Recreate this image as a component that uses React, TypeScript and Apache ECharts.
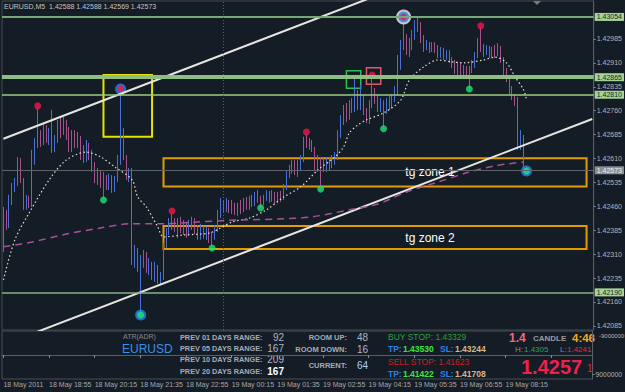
import React, { useEffect, useRef } from 'react';
import * as echarts from 'echarts';

// [open, close, low, high] per M5 bar, 18 May 17:35 -> 19 May 08:50
const CANDLES: number[][] = [
  [1.42329,1.42433,1.42317,1.42458],[1.42433,1.42401,1.42386,1.42449],[1.42401,1.42480,1.42392,1.42496],[1.42480,1.42518,1.42464,1.42533],
  [1.42518,1.42536,1.42505,1.42549],[1.42536,1.42590,1.42524,1.42615],[1.42590,1.42543,1.42533,1.42612],[1.42543,1.42464,1.42449,1.42549],
  [1.42464,1.42486,1.42449,1.42496],[1.42486,1.42464,1.42455,1.42493],[1.42464,1.42605,1.42458,1.42637],[1.42605,1.42652,1.42590,1.42674],
  [1.42652,1.42684,1.42643,1.42768],[1.42684,1.42662,1.42646,1.42699],[1.42662,1.42706,1.42652,1.42721],[1.42706,1.42668,1.42659,1.42715],
  [1.42668,1.42693,1.42652,1.42706],[1.42693,1.42637,1.42627,1.42762],[1.42637,1.42668,1.42630,1.42684],[1.42668,1.42715,1.42659,1.42731],
  [1.42715,1.42693,1.42674,1.42737],[1.42693,1.42724,1.42684,1.42740],[1.42724,1.42674,1.42668,1.42731],[1.42674,1.42637,1.42630,1.42709],
  [1.42637,1.42684,1.42630,1.42699],[1.42684,1.42652,1.42643,1.42699],[1.42652,1.42674,1.42643,1.42693],[1.42674,1.42621,1.42605,1.42681],
  [1.42621,1.42605,1.42596,1.42652],[1.42605,1.42643,1.42599,1.42668],[1.42643,1.42621,1.42605,1.42659],[1.42621,1.42574,1.42568,1.42637],
  [1.42574,1.42549,1.42533,1.42599],[1.42549,1.42568,1.42527,1.42580],[1.42568,1.42527,1.42518,1.42574],[1.42527,1.42549,1.42486,1.42568],
  [1.42549,1.42533,1.42511,1.42558],[1.42533,1.42552,1.42511,1.42562],[1.42552,1.42518,1.42502,1.42558],[1.42518,1.42543,1.42505,1.42555],
  [1.42543,1.42605,1.42536,1.42621],[1.42605,1.42690,1.42590,1.42825],[1.42690,1.42612,1.42605,1.42706],[1.42612,1.42549,1.42543,1.42621],
  [1.42549,1.42568,1.42536,1.42580],[1.42568,1.42286,1.42276,1.42580],[1.42286,1.42317,1.42267,1.42339],[1.42317,1.42267,1.42254,1.42329],
  [1.42267,1.42286,1.42126,1.42307],[1.42286,1.42307,1.42267,1.42323],[1.42307,1.42260,1.42251,1.42317],[1.42260,1.42276,1.42245,1.42298],
  [1.42276,1.42245,1.42229,1.42286],[1.42245,1.42267,1.42223,1.42286],[1.42267,1.42229,1.42217,1.42276],[1.42229,1.42242,1.42213,1.42254],
  [1.42242,1.42339,1.42229,1.42345],[1.42339,1.42380,1.42329,1.42392],[1.42380,1.42401,1.42370,1.42423],[1.42401,1.42417,1.42386,1.42439],
  [1.42417,1.42392,1.42380,1.42423],[1.42392,1.42411,1.42361,1.42423],[1.42411,1.42386,1.42376,1.42427],[1.42386,1.42405,1.42370,1.42417],
  [1.42405,1.42380,1.42361,1.42411],[1.42380,1.42398,1.42367,1.42417],[1.42398,1.42411,1.42386,1.42427],[1.42411,1.42386,1.42373,1.42423],
  [1.42386,1.42370,1.42355,1.42401],[1.42370,1.42392,1.42355,1.42405],[1.42392,1.42367,1.42358,1.42398],[1.42367,1.42380,1.42355,1.42398],
  [1.42380,1.42355,1.42345,1.42392],[1.42355,1.42367,1.42336,1.42380],[1.42367,1.42392,1.42355,1.42401],[1.42392,1.42433,1.42380,1.42449],
  [1.42433,1.42474,1.42423,1.42486],[1.42474,1.42455,1.42442,1.42480],[1.42455,1.42467,1.42442,1.42486],[1.42467,1.42449,1.42439,1.42480],
  [1.42449,1.42464,1.42436,1.42480],[1.42464,1.42442,1.42433,1.42471],[1.42442,1.42458,1.42430,1.42471],[1.42458,1.42449,1.42436,1.42480],
  [1.42449,1.42471,1.42442,1.42486],[1.42471,1.42461,1.42449,1.42489],[1.42461,1.42480,1.42449,1.42493],[1.42480,1.42467,1.42458,1.42496],
  [1.42467,1.42493,1.42461,1.42505],[1.42493,1.42480,1.42471,1.42511],[1.42480,1.42467,1.42455,1.42493],[1.42467,1.42486,1.42464,1.42496],
  [1.42486,1.42499,1.42477,1.42511],[1.42499,1.42483,1.42471,1.42508],[1.42483,1.42496,1.42474,1.42511],[1.42496,1.42480,1.42467,1.42505],
  [1.42480,1.42496,1.42471,1.42505],[1.42496,1.42486,1.42474,1.42508],[1.42486,1.42518,1.42480,1.42530],[1.42518,1.42558,1.42511,1.42574],
  [1.42558,1.42574,1.42549,1.42590],[1.42574,1.42590,1.42562,1.42605],[1.42590,1.42568,1.42558,1.42605],[1.42568,1.42587,1.42552,1.42605],
  [1.42587,1.42612,1.42574,1.42621],[1.42612,1.42668,1.42599,1.42678],[1.42668,1.42652,1.42643,1.42687],[1.42652,1.42659,1.42637,1.42674],
  [1.42659,1.42637,1.42630,1.42668],[1.42637,1.42580,1.42574,1.42646],[1.42580,1.42605,1.42568,1.42621],[1.42605,1.42590,1.42521,1.42615],
  [1.42590,1.42574,1.42568,1.42612],[1.42574,1.42599,1.42568,1.42615],[1.42599,1.42583,1.42574,1.42612],[1.42583,1.42605,1.42580,1.42621],
  [1.42605,1.42612,1.42590,1.42630],[1.42612,1.42684,1.42605,1.42699],[1.42684,1.42731,1.42674,1.42746],[1.42731,1.42756,1.42715,1.42778],
  [1.42756,1.42737,1.42724,1.42784],[1.42737,1.42778,1.42731,1.42793],[1.42778,1.42762,1.42753,1.42800],[1.42762,1.42793,1.42756,1.42866],
  [1.42793,1.42775,1.42762,1.42825],[1.42775,1.42800,1.42762,1.42841],[1.42800,1.42756,1.42746,1.42809],[1.42756,1.42731,1.42721,1.42768],
  [1.42731,1.42778,1.42718,1.42793],[1.42778,1.42825,1.42768,1.42869],[1.42825,1.42793,1.42781,1.42831],[1.42793,1.42768,1.42756,1.42809],
  [1.42768,1.42781,1.42756,1.42800],[1.42781,1.42762,1.42709,1.42793],[1.42762,1.42784,1.42750,1.42800],[1.42784,1.42778,1.42762,1.42806],
  [1.42778,1.42800,1.42768,1.42812],[1.42800,1.42819,1.42787,1.42837],[1.42819,1.42919,1.42809,1.42935],[1.42919,1.42966,1.42888,1.42982],
  [1.42966,1.42988,1.42950,1.43054],[1.42988,1.42950,1.42935,1.43000],[1.42950,1.42966,1.42928,1.42988],[1.42966,1.42997,1.42950,1.43013],
  [1.42997,1.43019,1.42982,1.43044],[1.43019,1.43029,1.43007,1.43051],[1.43029,1.42982,1.42972,1.43038],[1.42982,1.42960,1.42944,1.42997],
  [1.42960,1.42969,1.42950,1.42982],[1.42969,1.42950,1.42941,1.42975],[1.42950,1.42966,1.42944,1.42975],[1.42966,1.42953,1.42941,1.42975],
  [1.42953,1.42935,1.42925,1.42966],[1.42935,1.42950,1.42925,1.42960],[1.42950,1.42928,1.42919,1.42957],[1.42928,1.42941,1.42919,1.42950],
  [1.42941,1.42919,1.42910,1.42950],[1.42919,1.42906,1.42894,1.42928],[1.42906,1.42888,1.42875,1.42919],[1.42888,1.42900,1.42869,1.42913],
  [1.42900,1.42881,1.42869,1.42910],[1.42881,1.42894,1.42869,1.42903],[1.42894,1.42875,1.42862,1.42900],[1.42875,1.42888,1.42831,1.42900],
  [1.42888,1.42906,1.42878,1.42919],[1.42906,1.42935,1.42894,1.42944],[1.42935,1.42975,1.42925,1.42988],[1.42975,1.42957,1.42944,1.43022],
  [1.42957,1.42944,1.42928,1.42969],[1.42944,1.42957,1.42935,1.42966],[1.42957,1.42935,1.42925,1.42963],[1.42935,1.42950,1.42928,1.42960],
  [1.42950,1.42938,1.42925,1.42966],[1.42938,1.42957,1.42931,1.42972],[1.42957,1.42919,1.42910,1.42963],[1.42919,1.42881,1.42872,1.42928],
  [1.42881,1.42862,1.42850,1.42894],[1.42862,1.42825,1.42812,1.42869],[1.42825,1.42803,1.42793,1.42837],[1.42803,1.42793,1.42775,1.42812],
  [1.42793,1.42643,1.42637,1.42803],[1.42643,1.42674,1.42637,1.42699],[1.42674,1.42588,1.42580,1.42684],[1.42588,1.42573,1.42569,1.42588],
];

const SLOTS = 207;
const LABEL_STEP = 16;
const TIME_LABELS = ['18 May 2011', '18 May 18:55', '18 May 20:15', '18 May 21:35', '18 May 22:55', '19 May 00:15',
  '19 May 01:35', '19 May 02:55', '19 May 04:15', '19 May 05:35', '19 May 06:55', '19 May 08:15'];
const PRICE_TICKS = [1.42085, 1.42160, 1.42235, 1.42310, 1.42385, 1.42460, 1.42535, 1.42610, 1.42685, 1.42760, 1.42835, 1.42910, 1.42985];
const Y_MIN = 1.42072;
const Y_MAX = 1.43104;
const LEVELS = [1.43054, 1.42865, 1.42810, 1.42190];
const CURRENT_PRICE = 1.42573;
const SEPARATOR_BAR = 77;
const UPPER_CHANNEL = [[0, 1.42672], [150, 1.43188]];
const LOWER_CHANNEL = [[10, 1.42060], [206, 1.42734]];
const FAST_MA = [[0,1.42229],[4,1.42355],[9,1.42439],[16,1.42543],[22,1.42605],[29,1.42630],[34,1.42615],[39,1.42583],[45,1.42543],
  [47,1.42489],[50,1.42458],[54,1.42395],[56,1.42364],[63,1.42370],[72,1.42376],[76,1.42392],[80,1.42411],[86,1.42423],[92,1.42449],
  [98,1.42489],[104,1.42521],[110,1.42574],[116,1.42615],[119,1.42646],[121,1.42690],[124,1.42715],[127,1.42731],[133,1.42753],
  [139,1.42793],[142,1.42856],[147,1.42897],[152,1.42919],[157,1.42913],[161,1.42910],[168,1.42919],[172,1.42928],[176,1.42910],
  [179,1.42866],[182,1.42825],[183,1.42793]];
const SLOW_MA = [[0,1.42333],[10,1.42348],[22,1.42373],[34,1.42392],[44,1.42405],[56,1.42405],[68,1.42411],[82,1.42417],[96,1.42420],
  [108,1.42427],[121,1.42449],[131,1.42467],[141,1.42505],[152,1.42536],[162,1.42565],[172,1.42587],[182,1.42599]];
const UP_FRACTALS = [[12,1.42775],[41,1.42828],[59,1.42445],[106,1.42693],[129,1.42872],[140,1.43054],[167,1.43026]];
const DOWN_FRACTALS = [[35,1.42480],[48,1.42119],[73,1.42329],[90,1.42455],[111,1.42514],[133,1.42703],[163,1.42828],[183,1.42571]];
const SIGNALS = [[41,1.42828],[140,1.43054],[48,1.42119],[183,1.42571]];
const RING = [[140,1.43054]];
// [barFrom, priceTop, barTo, priceBottom]
const BOXES = [[35,1.42872,52,1.42678],[120,1.42885,125,1.42830],[127,1.42895,132,1.42843]];
const ZONES = [[56,1.42611,204,1.42522],[56,1.42398,204,1.42326]];
const ZONE_NAMES = ['tg zone 1', 'tg zone 2'];
const SUB_TICKS = [-9000000, 9000000];
const SUB_RANGE = 11307692;

const HEADER = 'EURUSD,M5  1.42588 1.42588 1.42569 1.42573';
const RANGE_LABELS = ['PREV 01 DAYS RANGE:', 'PREV 05 DAYS RANGE:', 'PREV 10 DAYS RANGE:', 'PREV 20 DAYS RANGE:'];
const RANGE_VALUES = ['92', '167', '209', '167'];
const ROOM_LABELS = ['ROOM UP:', 'ROOM DOWN:', 'CURRENT:'];
const ROOM_VALUES = ['48', '16', '64'];
const BUY_STOP = '1.43329', BUY_TP = '1.43530', BUY_SL = '1.43244';
const SELL_STOP = '1.41623', SELL_TP = '1.41422', SELL_SL = '1.41708';
const DAY_HIGH = '1.4305', DAY_LOW = '1.4241', BIG_PRICE = '1.4257', PRICE_HEAD = '1.4', CANDLE_TIME = '4:46';

const BG = '#141c26';
const FONT = '"Liberation Sans", Arial, sans-serif';
const BULL = '#4a6fd8';
const BEAR = '#a9508e';

export default function App() {
  const ref = useRef<HTMLDivElement>(null);
  useEffect(() => {
    document.body.style.margin = '0';
    if (!ref.current) return;
    const chart = echarts.init(ref.current, undefined, { renderer: 'svg' });
    const cats = Array.from({ length: SLOTS }, (_, i) => String(i));
    const levelStyles = [
      { color: '#79a877', width: 2 },
      { color: '#8fbd84', width: 4 },
      { color: '#9ccb7e', width: 1.5 },
      { color: '#88b08a', width: 1.5 },
    ];
    const lvlLabel = (value: number, bg: string, fg: string) => ({
      show: true, position: 'end', distance: 1, formatter: value.toFixed(5),
      backgroundColor: bg, color: fg, fontSize: 7, padding: [1, 2, 0, 2], fontFamily: FONT,
    });
    const boxColors = ['#e4e400', '#2fc04a', '#e05a66'];
    const boxWidths = [2, 1.5, 1.5];

    const txt = (text: string, x: number, y: number, fill: string, fontSize: number, bold = false, align = 'left') => ({
      type: 'text', silent: true,
      style: { text, x, y, fill, fontSize, fontWeight: bold ? 'bold' : 'normal', fontFamily: FONT, align, verticalAlign: 'middle' },
    });
    const rowY = [337, 348.5, 359.5, 371];
    const roomY = [337, 349, 365];
    const graphics: any[] = [
      txt(HEADER, 4, 6.5, '#c4c4c4', 7),
      { type: 'polygon', silent: true, shape: { points: [[533, 1], [541, 1], [537, 5]] }, style: { fill: '#7a7a7a' } },
      txt(String(SUB_TICKS[0]), 599, 335.5, '#b4b4b4', 6),
      txt('ATR(ADR)', 123, 336.5, '#8a8a8a', 7),
      txt('EURUSD', 122, 348.5, '#3d8fe4', 12),
      ...RANGE_LABELS.map((t, i) => txt(t, 180, rowY[i], '#a6acb8', 7.3, true)),
      ...RANGE_VALUES.map((t, i) => txt(t, 284, rowY[i], i === 3 ? '#ffffff' : '#aeb6c6', 10, i === 3, 'right')),
      ...ROOM_LABELS.map((t, i) => txt(t, 347, roomY[i], '#a6acb8', 7.5, true, 'right')),
      ...ROOM_VALUES.map((t, i) => txt(t, 357, roomY[i], i === 2 ? '#a8d0f4' : '#aeb6c6', 10)),
      txt('BUY STOP: ' + BUY_STOP, 388, 337, '#2f9e3c', 8.5),
      txt('TP:', 388, 349, '#2f80ea', 8.5, true),
      txt(BUY_TP, 403, 349, '#3ee63e', 8.5, true),
      txt('SL:', 440, 349, '#2f80ea', 8.5, true),
      txt(BUY_SL, 455, 349, '#d6b888', 8.5, true),
      txt('SELL STOP: ' + SELL_STOP, 388, 362, '#cc2222', 8.5),
      txt('TP:', 388, 373.5, '#2f80ea', 8.5, true),
      txt(SELL_TP, 403, 373.5, '#3ee63e', 8.5, true),
      txt('SL:', 440, 373.5, '#2f80ea', 8.5, true),
      txt(SELL_SL, 455, 373.5, '#d6b888', 8.5, true),
      txt(PRICE_HEAD, 509, 338, '#f06a7a', 12, true),
      txt('CANDLE', 533, 338, '#9a9a9a', 8, true),
      txt(CANDLE_TIME, 572, 337.5, '#f0a81e', 11.5, true),
      txt('H:', 515, 349, '#8a8a8a', 8),
      txt(DAY_HIGH, 524, 349, '#3c9c5c', 8),
      txt('L:', 560, 349, '#8a8a8a', 8),
      txt(DAY_LOW, 567, 349, '#e03048', 8),
      txt(BIG_PRICE, 521, 366.5, '#f0204c', 20, true),
      txt('1', 587, 368, '#e8204a', 10),
    ];

    const option: any = {
      animation: false,
      backgroundColor: BG,
      textStyle: { fontFamily: FONT },
      grid: [
        { left: 2, top: 1, width: 596, height: 329, show: true, borderColor: '#454a50', borderWidth: 1 },
        { left: 2, top: 331, width: 596, height: 48, show: true, borderColor: '#4a4f55', borderWidth: 1 },
      ],
      xAxis: [
        { type: 'category', gridIndex: 0, data: cats, boundaryGap: true, axisLine: { show: false }, axisTick: { show: false }, axisLabel: { show: false }, splitLine: { show: false } },
        {
          type: 'category', gridIndex: 1, data: cats, boundaryGap: true, position: 'bottom',
          axisLine: { show: true, lineStyle: { color: '#5a5f66' } },
          axisTick: { show: true, interval: LABEL_STEP - 1, alignWithLabel: true, length: 3, lineStyle: { color: '#8a8a8a' } },
          axisLabel: {
            interval: LABEL_STEP - 1, align: 'left', margin: 2, color: '#a8a8a8', fontSize: 7, fontFamily: FONT,
            formatter: (_v: string, i: number) => TIME_LABELS[i / LABEL_STEP] ?? '',
          },
          splitLine: { show: false },
        },
      ],
      yAxis: [
        {
          type: 'value', gridIndex: 0, position: 'right', min: Y_MIN, max: Y_MAX,
          axisLine: { show: true, lineStyle: { color: '#5a5f66' } },
          axisTick: { show: true, length: 2, customValues: PRICE_TICKS, lineStyle: { color: '#8a8a8a' } },
          axisLabel: { customValues: PRICE_TICKS, formatter: (v: number) => v.toFixed(5), color: '#b4b4b4', fontSize: 7, margin: 3, fontFamily: FONT },
          splitLine: { show: false },
        },
        {
          type: 'value', gridIndex: 1, position: 'right', inverse: true, min: -SUB_RANGE, max: SUB_RANGE,
          axisLine: { show: true, lineStyle: { color: '#5a5f66' } },
          axisTick: { show: true, length: 2, customValues: SUB_TICKS, lineStyle: { color: '#8a8a8a' } },
          axisLabel: {
            customValues: [SUB_TICKS[1]], showMinLabel: true, showMaxLabel: true, hideOverlap: false,
            formatter: (v: number) => String(v), color: '#b4b4b4', fontSize: 6.8, margin: 3, fontFamily: FONT,
          },
          splitLine: { show: false },
        },
      ],
      series: [
        {
          type: 'candlestick', xAxisIndex: 0, yAxisIndex: 0, data: CANDLES, barWidth: 1,
          itemStyle: { color: BULL, color0: BEAR, borderColor: BULL, borderColor0: BEAR, borderWidth: 1 },
          markArea: {
            silent: true,
            data: [
              ...BOXES.map((b, i) => [
                { xAxis: b[0], yAxis: b[1], itemStyle: { color: 'rgba(0,0,0,0)', borderColor: boxColors[i], borderWidth: boxWidths[i] } },
                { xAxis: b[2], yAxis: b[3] },
              ]),
              ...ZONES.map((z, i) => [
                {
                  name: ZONE_NAMES[i], xAxis: z[0], yAxis: z[1],
                  itemStyle: { color: 'rgba(0,0,0,0)', borderColor: '#e29c00', borderWidth: 2 },
                  label: { show: true, position: 'inside', offset: [55, 0], color: '#ffffff', fontSize: 12, fontFamily: FONT },
                },
                { xAxis: z[2], yAxis: z[3] },
              ]),
            ],
          },
        },
        {
          type: 'line', xAxisIndex: 0, yAxisIndex: 0, data: LOWER_CHANNEL, symbol: 'none', lineStyle: { color: '#e6e6de', width: 2 }, silent: true,
          markLine: {
            silent: true, symbol: ['none', 'none'], animation: false, precision: 6,
            data: [
              ...LEVELS.map((v, i) => ({ yAxis: v, lineStyle: { ...levelStyles[i], type: 'solid' }, label: lvlLabel(v, '#a4d498', '#1c261c') })),
              { yAxis: CURRENT_PRICE, lineStyle: { color: '#60646a', width: 1, type: 'solid' }, label: lvlLabel(CURRENT_PRICE, '#8a8e92', '#eeeeee') },
              { xAxis: SEPARATOR_BAR, lineStyle: { color: '#5c6068', width: 1, type: [1, 2] }, label: { show: false } },
            ],
          },
        },
        { type: 'line', xAxisIndex: 0, yAxisIndex: 0, data: UPPER_CHANNEL, symbol: 'none', lineStyle: { color: '#e6e6de', width: 2 }, silent: true },
        { type: 'line', xAxisIndex: 0, yAxisIndex: 0, data: FAST_MA, symbol: 'none', smooth: 0.3, lineStyle: { color: '#e2e2d2', width: 1.2, type: [1.5, 2.5] }, silent: true },
        { type: 'line', xAxisIndex: 0, yAxisIndex: 0, data: SLOW_MA, symbol: 'none', smooth: 0.3, lineStyle: { color: '#a8509c', width: 1.5, type: [7, 5] }, silent: true },
        { type: 'scatter', xAxisIndex: 0, yAxisIndex: 0, data: RING, symbol: 'circle', symbolSize: 15, itemStyle: { color: '#f4f4f4' }, silent: true },
        { type: 'scatter', xAxisIndex: 0, yAxisIndex: 0, data: SIGNALS, symbol: 'circle', symbolSize: 11, itemStyle: { color: '#2088ec' }, silent: true },
        { type: 'scatter', xAxisIndex: 0, yAxisIndex: 0, data: UP_FRACTALS, symbol: 'circle', symbolSize: 7, itemStyle: { color: '#f0184c' }, silent: true },
        { type: 'scatter', xAxisIndex: 0, yAxisIndex: 0, data: DOWN_FRACTALS, symbol: 'circle', symbolSize: 7, itemStyle: { color: '#1ee276' }, silent: true },
        { type: 'line', xAxisIndex: 1, yAxisIndex: 1, data: [], symbol: 'none', silent: true },
      ],
      graphic: graphics,
    };
    chart.setOption(option);
    return () => chart.dispose();
  }, []);
  return <div ref={ref} style={{ width: 625, height: 392, background: BG }} />;
}
